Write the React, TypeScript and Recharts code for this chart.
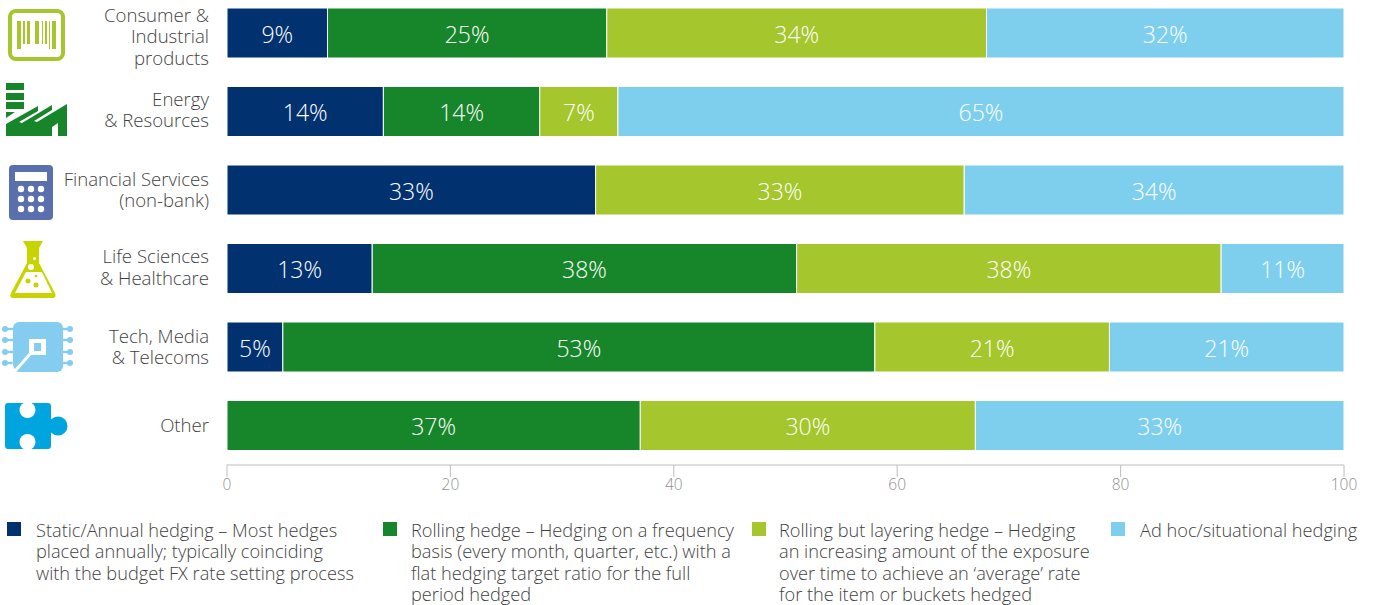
import { BarChart, Bar, XAxis, YAxis, LabelList, Legend } from "recharts";

const FONT = "'Open Sans', sans-serif";

const CATEGORIES = ["Consumer & Industrial products", "Energy & Resources", "Financial Services (non-bank)", "Life Sciences & Healthcare", "Tech, Media & Telecoms", "Other"];
const CATEGORY_LINES = [
  ["Consumer &", "Industrial", "products"],
  ["Energy", "& Resources"],
  ["Financial Services", "(non-bank)"],
  ["Life Sciences", "& Healthcare"],
  ["Tech, Media", "& Telecoms"],
  ["Other"],
];
// the labels aren't quite centred on their bars in the original
const LABEL_NUDGE = [2, -3.5, -2, -3, -2, -2];
const STATIC_HEDGE = [9, 14, 33, 13, 5, 0];
const ROLLING_HEDGE = [25, 14, 0, 38, 53, 37];
const LAYERING_HEDGE = [34, 7, 33, 38, 21, 30];
const AD_HOC = [32, 65, 34, 11, 21, 33];
const X_TICKS = [0, 20, 40, 60, 80, 100];

const NAVY = "#01326f";
const GREEN = "#17862a";
const LIME = "#a5c62c";
const SKY = "#7ecfee";
const FLASK = "#c8d400";
const CHIP = "#85cdf0";
const PUZZLE = "#00a5e0";

const SERIES = [
  { key: "staticHedge", color: NAVY },
  { key: "rolling", color: GREEN },
  { key: "layering", color: LIME },
  { key: "adHoc", color: SKY },
];

const LEGEND_ITEMS = [
  { color: NAVY, x: 7, textX: 36, lines: ["Static/Annual hedging – Most hedges", "placed annually; typically coinciding", "with the budget FX rate setting process"] },
  { color: GREEN, x: 383, textX: 411, lines: ["Rolling hedge – Hedging on a frequency", "basis (every month, quarter, etc.) with a", "flat hedging target ratio for the full", "period hedged"] },
  { color: LIME, x: 752, textX: 779, lines: ["Rolling but layering hedge – Hedging", "an increasing amount of the exposure", "over time to achieve an ‘average’ rate", "for the item or buckets hedged"] },
  { color: SKY, x: 1111, textX: 1140, lines: ["Ad hoc/situational hedging"] },
];

const data = CATEGORIES.map((name, i) => ({
  name,
  staticHedge: STATIC_HEDGE[i],
  rolling: ROLLING_HEDGE[i],
  layering: LAYERING_HEDGE[i],
  adHoc: AD_HOC[i],
}));

function CategoryTick({ y, index }: any) {
  const lines = CATEGORY_LINES[index];
  const top = y + LABEL_NUDGE[index] - ((lines.length - 1) * 21.5) / 2;
  return (
    <text x={209} y={top} textAnchor="end" dominantBaseline="central" fontFamily={FONT} fontWeight={300} fontSize={18.6} fill="#3f3f3f">
      {lines.map((line: string, i: number) => (
        <tspan key={line} x={209} y={top + i * 21.5}>{line}</tspan>
      ))}
    </text>
  );
}

function HedgeLegend() {
  return (
    <div style={{ position: "relative", width: 1375, height: 100 }}>
      {LEGEND_ITEMS.map((item) => (
        <div key={item.x}>
          <div style={{ position: "absolute", left: item.x, top: 3, width: 14, height: 14, background: item.color }} />
          <div style={{ position: "absolute", left: item.textX, top: 1, fontFamily: FONT, fontWeight: 300, fontSize: 18.2, lineHeight: "21.4px", color: "#3f3f3f", whiteSpace: "nowrap" }}>
            {item.lines.map((line) => <div key={line}>{line}</div>)}
          </div>
        </div>
      ))}
    </div>
  );
}

function Icons() {
  const dots: [number, number][] = [];
  [189, 199, 209].forEach((cy) => [21, 31, 41].forEach((cx) => dots.push([cx, cy])));
  return (
    <svg width={227} height={460} style={{ position: "absolute", left: 0, top: 0 }}>
      {/* barcode */}
      <rect x={10} y={11} width={53} height={48} rx={6} fill="none" stroke={LIME} strokeWidth={4} />
      {[[17, 4, 49], [23, 2, 44], [27, 3, 44], [35, 4, 44], [42, 1, 44], [45, 2, 44], [49, 1, 49], [52, 4, 49]].map(([x, w, b]) => (
        <rect key={x} x={x} y={21} width={w} height={b - 21} fill={LIME} />
      ))}
      {/* factory */}
      <g fill={GREEN}>
        <rect x={6} y={83} width={18} height={7} />
        <rect x={6} y={93} width={18} height={7} />
        <rect x={6} y={102} width={18} height={7} />
        <path d="M6 112 H15 L6 118 Z" />
        <path d="M6 124 L38 106 V111 L19 122 L22 123 L52 105 V110 L34 121 L37 122 L67 104 V136 H58 V123 L52 127 V136 H6 Z" />
      </g>
      {/* calculator */}
      <rect x={9} y={165} width={44} height={55} rx={4} fill="#5a70ae" />
      <rect x={15} y={172} width={32} height={9} fill="#fff" />
      {dots.map(([cx, cy]) => <circle key={`${cx}-${cy}`} cx={cx} cy={cy} r={3.2} fill="#fff" />)}
      {/* flask */}
      <path d="M23 241 H43 L39 248 V263 L55 293 Q57 298 52 298 H13 Q9 298 11 293 L27 263 V248 Z" fill={FLASK} />
      <path d="M26 272 H42 L52 293 H15 Z" fill="#fff" />
      <circle cx={31} cy={267} r={3} fill="#fff" />
      <circle cx={34.5} cy={258.5} r={1.5} fill="#fff" />
      <circle cx={28} cy={281} r={2.5} fill={FLASK} />
      <circle cx={36} cy={285} r={2.5} fill={FLASK} />
      <circle cx={36} cy={276} r={1.3} fill={FLASK} />
      {/* chip */}
      <rect x={13} y={322} width={50} height={50} rx={6} fill={CHIP} />
      {[329, 340, 352, 363].map((cy) => (
        <g key={cy} fill={CHIP}>
          <circle cx={5} cy={cy} r={3} />
          <rect x={5} y={cy - 1.2} width={10} height={2.4} />
          <circle cx={70} cy={cy} r={3} />
          <rect x={60} y={cy - 1.2} width={10} height={2.4} />
        </g>
      ))}
      <rect x={29} y={339} width={17} height={16} fill="#fff" />
      <rect x={34} y={343} width={7} height={8} fill={CHIP} />
      <path d="M31 353 L15 371" stroke="#fff" strokeWidth={3} />
      <path d="M12 362 L12 373 L16 373 Z" fill="#fff" />
      {/* puzzle */}
      <g fill={PUZZLE}>
        <rect x={5} y={403} width={46} height={46} rx={3} />
        <rect x={49} y={421} width={6} height={10} />
        <circle cx={58} cy={426} r={9.5} />
      </g>
      <circle cx={27.5} cy={410} r={8} fill="#fff" />
      <circle cx={27.5} cy={442} r={8} fill="#fff" />
    </svg>
  );
}

export default function App() {
  return (
    <div style={{ position: "absolute", left: 0, top: 0, width: 1375, height: 605, overflow: "hidden", background: "#fff" }}>
      <div style={{ position: "absolute", left: 0, top: -10 }}>
        <BarChart width={1375} height={620} data={data} layout="vertical" barSize={50} margin={{ top: 4, right: 31, bottom: 0, left: 0 }}>
          <XAxis
            type="number"
            domain={[0, 100]}
            ticks={X_TICKS}
            interval={0}
            tickSize={12}
            height={45}
            stroke="#bdbdbd"
            tick={{ fontFamily: FONT, fontWeight: 300, fontSize: 15.5, fill: "#8f8f8f" }}
          />
          <YAxis type="category" dataKey="name" width={227} axisLine={false} tickLine={false} interval={0} tick={<CategoryTick />} />
          <Legend content={<HedgeLegend />} layout="horizontal" verticalAlign="bottom" align="left" wrapperStyle={{ left: 0, top: 529, width: 1375 }} />
          {SERIES.map((s) => (
            <Bar key={s.key} dataKey={s.key} stackId="a" fill={s.color} stroke="#fff" strokeWidth={1} isAnimationActive={false}>
              <LabelList
                dataKey={s.key}
                position="center"
                dy={1.5}
                formatter={(v: any) => (v ? `${v}%` : "")}
                style={{ fontFamily: FONT, fontWeight: 300, fontSize: 23, fill: "#fff" }}
              />
            </Bar>
          ))}
        </BarChart>
      </div>
      <Icons />
    </div>
  );
}
